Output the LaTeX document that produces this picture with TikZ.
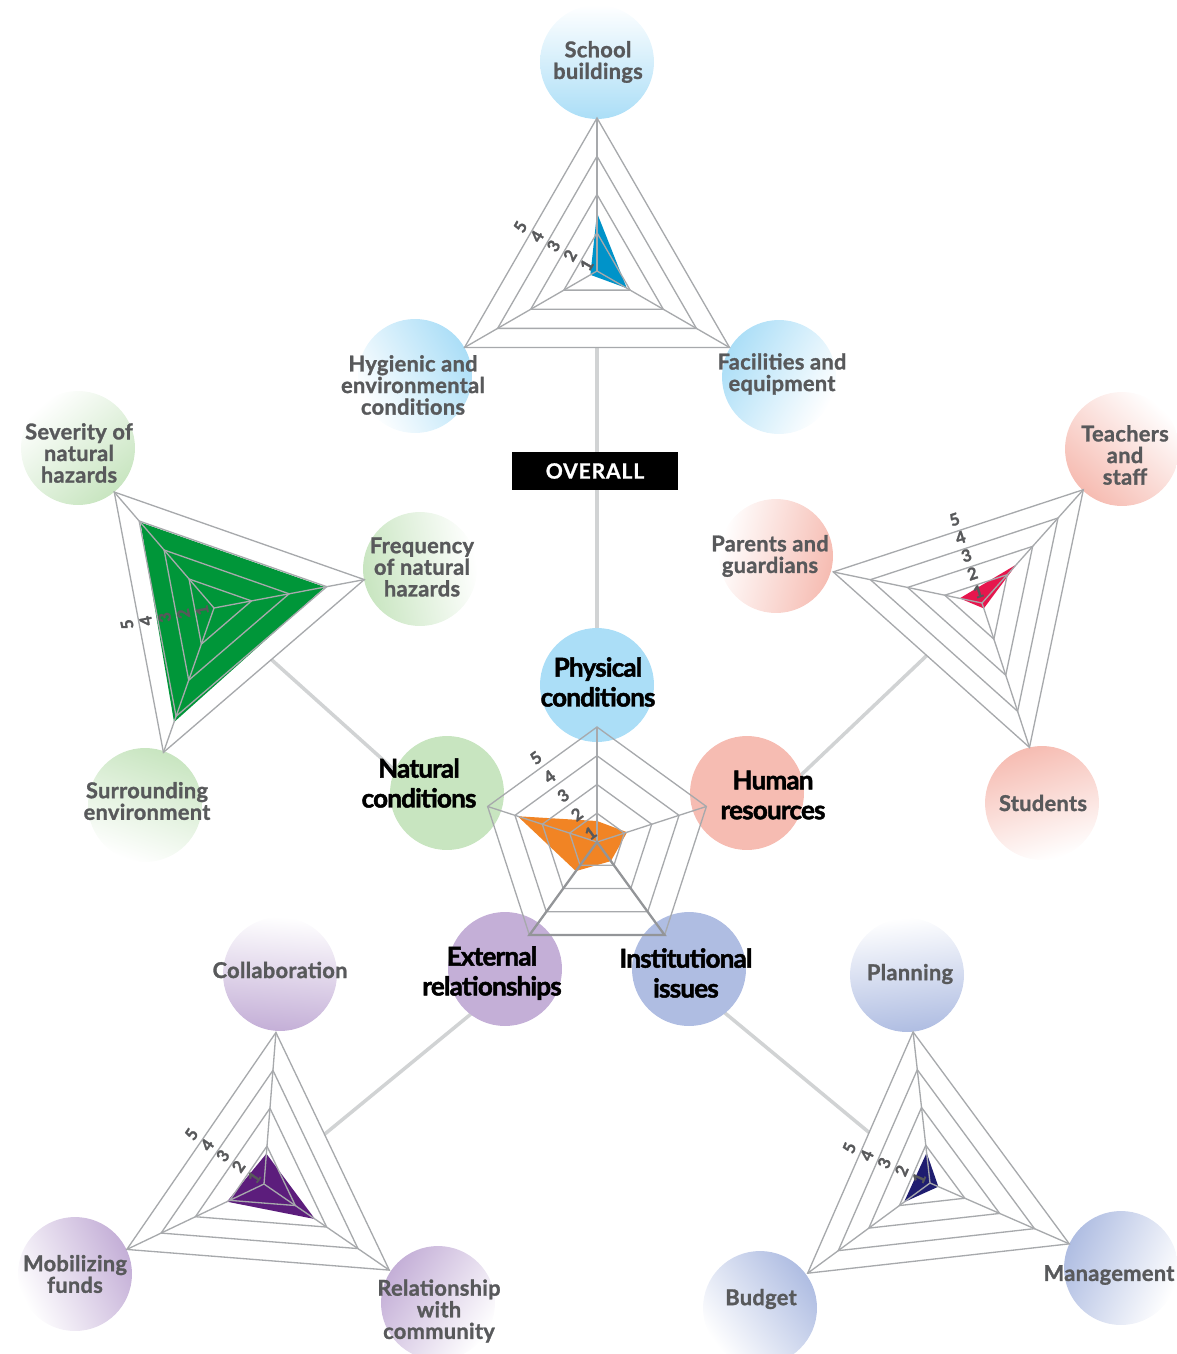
\documentclass[tikz,border=0pt]{standalone}
\usepackage{fontspec}
\setmainfont{Lato}
\definecolor{labelgray}{HTML}{58595B}
\definecolor{gridgray}{HTML}{A7A9AC}
\definecolor{linkgray}{HTML}{D1D3D4}
\definecolor{edgegray}{HTML}{939598}
\definecolor{physblue}{HTML}{ABDEF7}
\definecolor{natgreen}{HTML}{C8E5C0}
\definecolor{humpink}{HTML}{F6BCB2}
\definecolor{extlilac}{HTML}{C4AFD7}
\definecolor{instblue}{HTML}{AFBDE2}
\definecolor{fillblue}{HTML}{0093C9}
\definecolor{fillgreen}{HTML}{009639}
\definecolor{fillred}{HTML}{E6164D}
\definecolor{fillpurple}{HTML}{5C1D7C}
\definecolor{fillnavy}{HTML}{1F1D70}
\definecolor{fillorange}{HTML}{F18424}

% Three-axis radar: #1 centre, #2 angle of first axis, #3 radius,
% #4 fill colour, #5-#7 scores (1..5) on the three axes
\newcommand\triradar[7]{%
  \begin{scope}[shift={(#1)}]
    \pgfmathsetmacro\aA{-(#2)}
    \pgfmathsetmacro\aB{-(#2)-120}
    \pgfmathsetmacro\aC{-(#2)-240}
    \pgfmathsetmacro\aL{-(#2)-60}
    \pgfmathsetmacro\rotL{#2-30}
    \fill[white] (\aA:#3) -- (\aB:#3) -- (\aC:#3) -- cycle;
    \fill[#4] (\aA:{(#5-1)/4*#3}) -- (\aB:{(#6-1)/4*#3}) -- (\aC:{(#7-1)/4*#3}) -- cycle;
    \foreach \k in {2,...,5}{
      \pgfmathsetmacro\ringr{(\k-1)/4*#3}
      \draw[gridline] (\aA:\ringr) -- (\aB:\ringr) -- (\aC:\ringr) -- cycle;}
    \foreach \a in {\aA,\aB,\aC} \draw[gridline] (0,0) -- (\a:#3);
    \foreach \k in {1,...,5}
      \node[scalelabel, rotate=\rotL, name=#1-s\k] at (\aL:{(\k-1)/8*#3+12}) {\k};
  \end{scope}}

\begin{document}
\begin{tikzpicture}[x=0.02cm, y=-0.02cm,
  gridline/.style={draw=gridgray, line width=0.75pt},
  coreedge/.style={draw=edgegray, line width=1.3pt},
  connector/.style={draw=linkgray, line width=2pt},
  satdisc/.style 2 args={circle, inner sep=0pt, minimum size=2.28cm,
    top color=#1, bottom color=white, shading angle=#2},
  coredisc/.style={circle, inner sep=0pt, minimum size=2.28cm, fill=#1},
  sattext/.style={text=labelgray, font=\fontsize{12.4}{12.3}\selectfont\bfseries\addfontfeatures{LetterSpace=1.5,FakeBold=1.3},
    align=center, inner sep=0pt},
  coretext/.style={text=black, font=\fontsize{14.8}{17}\selectfont\bfseries\addfontfeatures{LetterSpace=-3,FakeBold=1.8},
    align=center, inner sep=0pt},
  scalelabel/.style={text=labelgray, font=\fontsize{9.5}{9.5}\selectfont\bfseries\addfontfeatures{FakeBold=1.5}, inner sep=0pt},
  overallbox/.style={fill=black, text=white, minimum width=3.32cm, minimum height=0.78cm,
    inner sep=0pt, font=\fontsize{12}{12}\selectfont\bfseries\addfontfeatures{LetterSpace=4,FakeBold=1}}]

\useasboundingbox (0,0) rectangle (1176,1354);

% chart centres
\coordinate (c-top) at (597,271);
\coordinate (c-green) at (214,608);
\coordinate (c-red) at (982,603);
\coordinate (c-purple) at (264,1184);
\coordinate (c-navy) at (930,1183);
\coordinate (c-core) at (597,842);

% ends of the links, hidden under the central discs
\coordinate (phys-end) at (597,685);
\coordinate (nat-end) at (440,811);
\coordinate (hum-end) at (760,814);
\coordinate (ext-end) at (505,986);
\coordinate (inst-end) at (690,984);

% links from each sub-chart to the central chart
\draw[connector] (c-top) -- (phys-end);
\draw[connector] (c-green) -- (nat-end);
\draw[connector] (c-red) -- (hum-end);
\draw[connector] (c-purple) -- (ext-end);
\draw[connector] (c-navy) -- (inst-end);

% central discs
\node[coredisc=physblue] (physical) at (phys-end) {};
\node[coredisc=natgreen] (natural) at (447,793) {};
\node[coredisc=humpink] (human) at (747,793) {};
\node[coredisc=extlilac] (external) at (505,969) {};
\node[coredisc=instblue] (institutional) at (689,969) {};

% outer discs, shaded towards their own chart
\node[satdisc={physblue}{180}] (school) at (597,62) {};
\node[satdisc={physblue}{-60.5}] (hygienic) at (415,376) {};
\node[satdisc={physblue}{60.3}] (facilities) at (779,377) {};
\node[satdisc={natgreen}{-139.6}] (severity) at (78,448) {};
\node[satdisc={natgreen}{100.7}] (frequency) at (420,569) {};
\node[satdisc={natgreen}{-19.3}] (surrounding) at (145,805) {};
\node[satdisc={humpink}{137.7}] (teachers) at (1122,449) {};
\node[satdisc={humpink}{-102.9}] (parents) at (776,556) {};
\node[satdisc={humpink}{16.7}] (students) at (1042,803) {};
\node[satdisc={extlilac}{175.6}] (collab) at (280,974) {};
\node[satdisc={extlilac}{-64.5}] (funds) at (75,1274) {};
\node[satdisc={extlilac}{55.9}] (community) at (438,1303) {};
\node[satdisc={instblue}{-173.7}] (planning) at (907,975) {};
\node[satdisc={instblue}{66}] (management) at (1121,1268) {};
\node[satdisc={instblue}{-53.7}] (budget) at (760,1308) {};

% sub-charts
\triradar{c-top}{90}{153}{fillblue}{2.52}{1.2}{1.9}
\triradar{c-green}{130.7}{153}{fillgreen}{3.95}{4.16}{3.95}
\triradar{c-red}{48.2}{152}{fillred}{2.36}{1.6}{1.15}
\triradar{c-purple}{85.5}{152}{fillpurple}{1.8}{2.08}{2.63}
\triradar{c-navy}{96.4}{152}{fillnavy}{1.8}{1.85}{1.24}

% central five-axis chart
\begin{scope}[shift={(c-core)}]
  \fill[fillorange] (-90:{0.73/4*115}) -- (-162:{2.9/4*115}) -- (-234:{1.25/4*115})
    -- (-306:{0.82/4*115}) -- (-18:{1.1/4*115}) -- cycle;
  \foreach \k in {2,...,5}{
    \pgfmathsetmacro\ringr{(\k-1)/4*115}
    \draw[gridline] (-90:\ringr) -- (-162:\ringr) -- (-234:\ringr) -- (-306:\ringr) -- (-18:\ringr) -- cycle;}
  \foreach \a in {90,162,234,306,18} \draw[gridline] (0,0) -- (-\a:115);
  \draw[coreedge, line join=miter] (0,0) -- (-234:115) -- (-306:115) -- cycle;
  \foreach \k in {1,...,5}
    \node[scalelabel, rotate=36, name=core-s\k] at (-126:{(\k-1)/4*115*cos(36)+11}) {\k};
\end{scope}

% overall tag
\node[overallbox] (overall) at (595,471) {OVERALL};

% outer labels
\node[sattext] (t-school) at (598,62) {School\\buildings};
\node[sattext] (t-hygienic) at (413,385) {Hygienic and\\environmental\\conditions};
\node[sattext] (t-facilities) at (782,374) {Facilities and\\equipment};
\node[sattext] (t-severity) at (79,453) {Severity of\\natural\\hazards};
\node[sattext] (t-frequency) at (422,567) {Frequency\\of natural\\hazards};
\node[sattext] (t-surrounding) at (147,801) {Surrounding\\environment};
\node[sattext] (t-teachers) at (1125,455) {Teachers\\and\\staff};
\node[sattext] (t-parents) at (770,556) {Parents and\\guardians};
\node[sattext] (t-students) at (1043,803) {Students};
\node[sattext] (t-collab) at (280,970) {Collaboration};
\node[sattext] (t-funds) at (75,1274) {Mobilizing\\funds};
\node[sattext] (t-community) at (439,1311) {Relationship\\with\\community};
\node[sattext] (t-planning) at (910,974) {Planning};
\node[sattext] (t-management) at (1109,1275) {Management};
\node[sattext] (t-budget) at (761,1299) {Budget};

% central labels
\node[coretext] (t-physical) at (598,682) {Physical\\conditions};
\node[coretext] (t-natural) at (419,783) {Natural\\conditions};
\node[coretext] (t-human) at (773,795) {Human\\resources};
\node[coretext] (t-external) at (492,973) {External\\relationships};
\node[coretext] (t-institutional) at (686,973) {Institutional\\issues};
\end{tikzpicture}
\end{document}
